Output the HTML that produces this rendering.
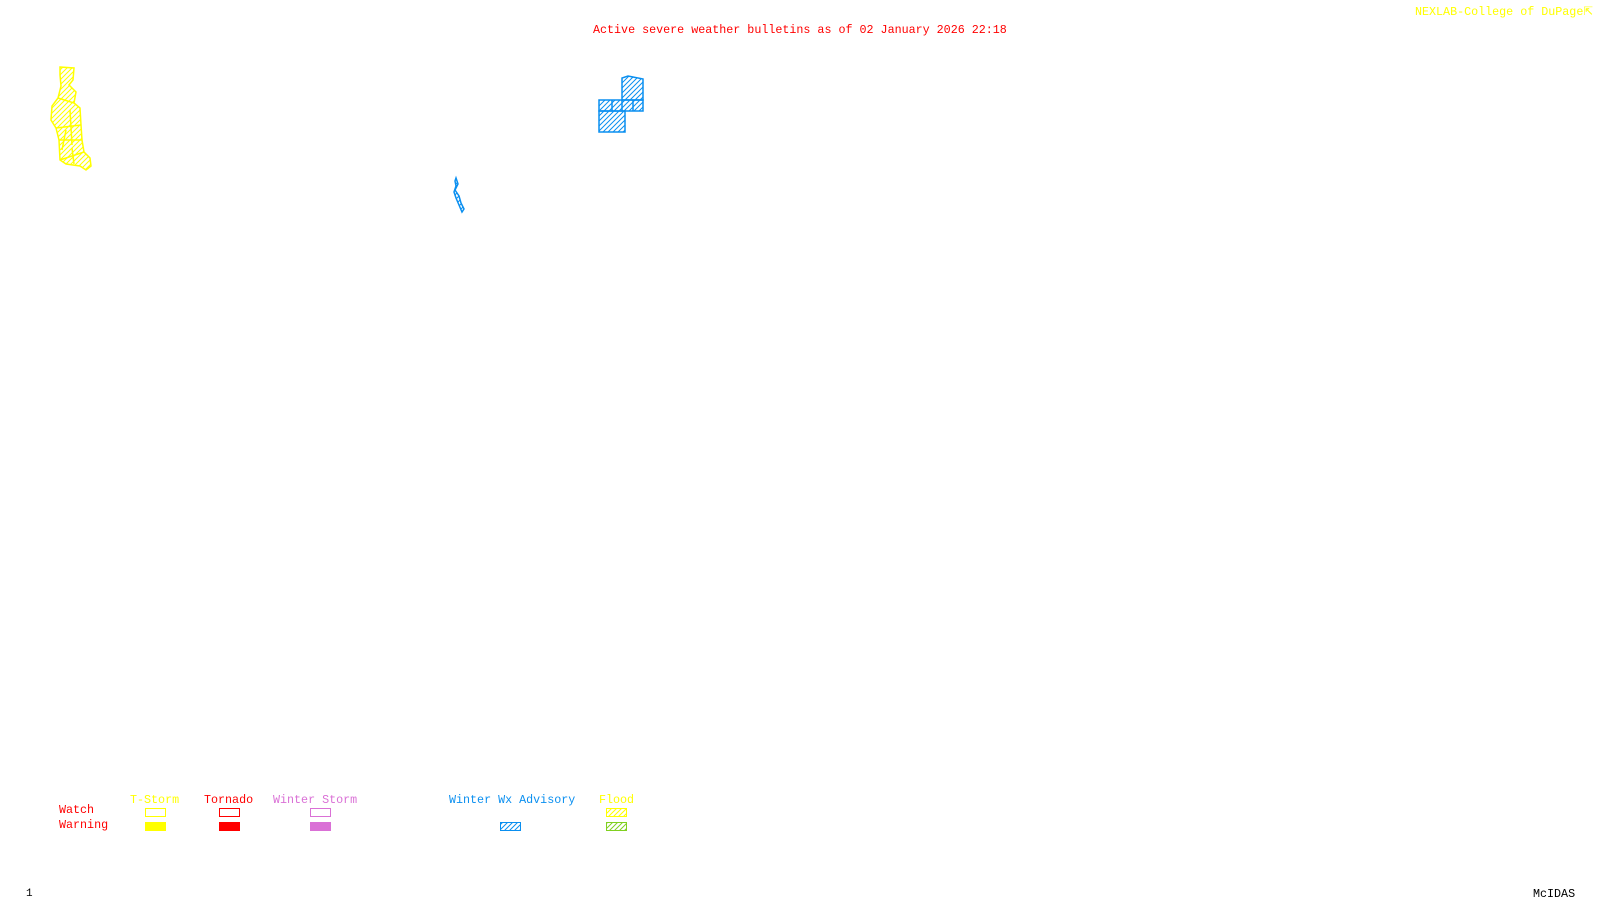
<!DOCTYPE html>
<html><head><meta charset="utf-8"><style>
html,body{margin:0;padding:0;background:#fff;}
body{width:1600px;height:900px;position:relative;overflow:hidden;font-family:"Liberation Mono",monospace;font-size:11.7px;}
.t{position:absolute;white-space:nowrap;line-height:1;font-size:11.7px;}
svg{position:absolute;left:0;top:0;}
</style></head><body>
<svg width="1600" height="900">
<defs>
<pattern id="hb" width="5" height="5" patternUnits="userSpaceOnUse"><path d="M-1,6 L6,-1 M-1,1 L1,-1 M4,6 L6,4" stroke="#0a8ff0" stroke-width="1"/></pattern>
<pattern id="hy" width="5" height="5" patternUnits="userSpaceOnUse"><path d="M-1,6 L6,-1 M-1,1 L1,-1 M4,6 L6,4" stroke="#ffff00" stroke-width="1"/></pattern>
<pattern id="hg" width="5" height="5" patternUnits="userSpaceOnUse"><path d="M-1,6 L6,-1 M-1,1 L1,-1 M4,6 L6,4" stroke="#80d020" stroke-width="1"/></pattern>
</defs>
<g fill="url(#hy)" stroke="#ffff00" stroke-width="1.5">
<path d="M60,67 L74,68 L73,80 L69,85 L76,92 L74,103 L80,108 L81,125 L82,140 L84,152 L90,158 L91,166 L86,170 L80,166 L66,164 L60,160 L59,140 L56,128 L51,120 L52,106 L58,98 L61,86 L60,75 Z"/>
<path d="M58,98 L74,103 M56,128 L81,125 M59,140 L82,140 M66,130 L62,150 M70,110 L72,145 M60,160 L84,152 M72,148 L74,164"/>
</g>
<g fill="url(#hb)" stroke="#0a8ff0" stroke-width="1.5">
<path d="M622,100 L622,78 L628,76 L633,77 L643,79 L643,100 Z"/>
<rect x="599" y="100" width="44" height="11"/>
<rect x="599" y="111" width="26" height="21"/>
<path d="M612,100 V111 M622,100 V111 M633,100 V111" fill="none"/>
</g>
<path d="M456,178 L458,184 L455,190 L459,196 L461,203 L464,209 L462,212 L459,205 L456,198 L454,192 L456,186 L455,181 Z" fill="url(#hb)" stroke="#0a8ff0" stroke-width="1.5"/>
<rect x="145.5" y="808.5" width="20" height="8" fill="none" stroke="#ffff00"/>
<rect x="145" y="822" width="21" height="9" fill="#ffff00"/>
<rect x="219.5" y="808.5" width="20" height="8" fill="none" stroke="#ff0000"/>
<rect x="219" y="822" width="21" height="9" fill="#ff0000"/>
<rect x="310.5" y="808.5" width="20" height="8" fill="none" stroke="#da70d6"/>
<rect x="310" y="822" width="21" height="9" fill="#da70d6"/>
<rect x="500.5" y="822.5" width="20" height="8" fill="url(#hb)" stroke="#0a8ff0"/>
<rect x="606.5" y="808.5" width="20" height="8" fill="url(#hy)" stroke="#ffff00"/>
<rect x="606.5" y="822.5" width="20" height="8" fill="url(#hg)" stroke="#80d020"/>
</svg>
<div class="t" style="left:593px;top:25px;color:#ff0000;">Active severe weather bulletins as of 02 January 2026 22:18</div>
<div class="t" style="left:1415px;top:7px;color:#ffff00;">NEXLAB-College of DuPage&#x21F1;</div>
<div class="t" style="left:130px;top:795px;color:#ffff00;">T-Storm</div>
<div class="t" style="left:204px;top:795px;color:#ff0000;">Tornado</div>
<div class="t" style="left:273px;top:795px;color:#da70d6;">Winter Storm</div>
<div class="t" style="left:449px;top:795px;color:#0a8ff0;">Winter Wx Advisory</div>
<div class="t" style="left:599px;top:795px;color:#ffff00;">Flood</div>
<div class="t" style="left:59px;top:805px;color:#ff0000;">Watch</div>
<div class="t" style="left:59px;top:820px;color:#ff0000;">Warning</div>
<div class="t" style="left:26px;top:889px;color:#000;font-size:11px;">1</div>
<div class="t" style="left:1533px;top:889px;color:#000;">McIDAS</div>
</body></html>
